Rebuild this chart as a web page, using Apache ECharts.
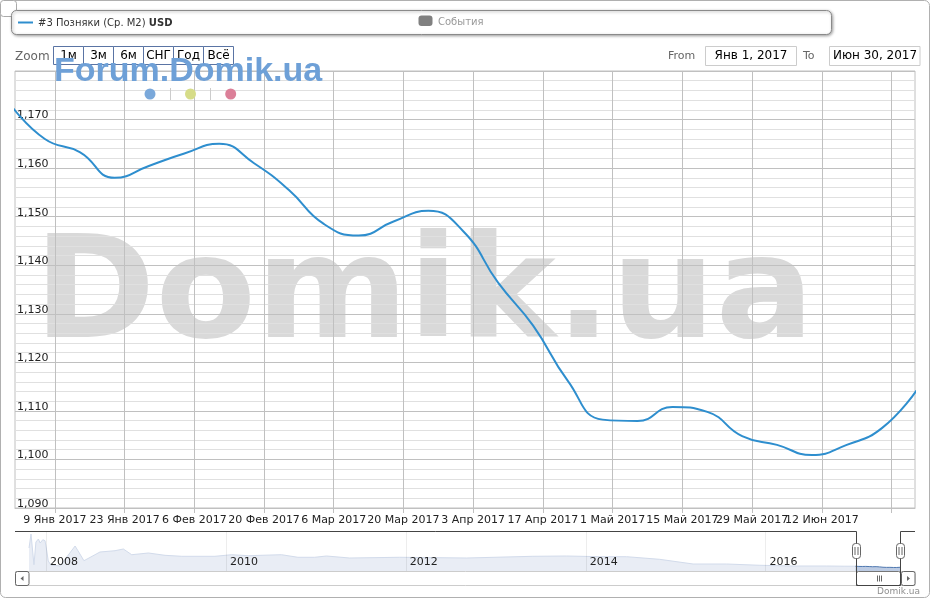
<!DOCTYPE html>
<html><head><meta charset="utf-8">
<script src="https://cdn.jsdelivr.net/npm/echarts@6/dist/echarts.min.js"></script>
<style>html,body{margin:0;padding:0;background:#fff}#c{width:931px;height:600px}</style>
</head><body><div id="c"></div>
<script>
// ---- main series (USD per m2) ----
const dates = ['2016-12-31','2017-01-07','2017-01-14','2017-01-21','2017-01-28','2017-02-04','2017-02-11','2017-02-18','2017-02-25','2017-03-04','2017-03-11','2017-03-18','2017-03-25','2017-04-01','2017-04-08','2017-04-15','2017-04-22','2017-04-29','2017-05-06','2017-05-13','2017-05-20','2017-05-27','2017-06-03','2017-06-10','2017-06-17','2017-06-24','2017-07-01'];
const values = [1173.2,1166.0,1163.3,1158.0,1160.5,1163.0,1165.0,1161.0,1155.5,1148.5,1146.1,1149.0,1151.2,1147.0,1136.4,1127.6,1116.2,1108.2,1107.9,1110.8,1109.8,1104.8,1103.0,1100.9,1103.0,1106.4,1114.2];
// ---- axis ticks ----
const tickDates = ['2017-01-09','2017-01-23','2017-02-06','2017-02-20','2017-03-06','2017-03-20','2017-04-03','2017-04-17','2017-05-01','2017-05-15','2017-05-29','2017-06-12','2017-06-26'];
const labelDatesA = ['2017-01-09','2017-02-06','2017-03-06','2017-04-03','2017-05-01','2017-05-29'];
const labelDatesB = ['2017-01-23','2017-02-20','2017-03-20','2017-04-17','2017-05-15','2017-06-12'];
const monthNames = ['Янв','Фев','Мар','Апр','Май','Июн','Июл','Авг','Сен','Окт','Ноя','Дек'];
const yMin = 1090, yMax = 1180, yStep = 10;
// ---- navigator history ----
const navDates = ['2007-10-24','2007-11-01','2007-11-13','2007-11-21','2007-12-01','2007-12-08','2007-12-19','2007-12-28','2008-01-04','2008-01-10','2008-01-21','2008-02-27','2008-04-28','2008-06-03','2008-07-18','2008-08-07','2008-10-07','2008-11-10','2008-12-14','2009-02-20','2009-04-28','2009-07-05','2009-11-17','2010-01-24','2010-04-01','2010-08-14','2010-10-20','2010-12-27','2011-02-13','2011-05-18','2011-12-07','2012-09-04','2013-05-31','2013-10-15','2014-02-27','2014-06-16','2014-10-28','2015-03-13','2015-07-27','2015-12-09','2016-04-22','2016-09-05','2016-11-15'];
const navValues = [2222,3027,1262,2567,2740,2510,2700,2642,2050,1475,1245,1187,2337,1492,1837,1992,2067,2165,1837,1935,1802,1745,1745,1837,1780,1837,1688,1688,1762,1647,1688,1647,1745,1762,1722,1722,1572,1302,1302,1228,1187,1187,1175];
const navYears = ['2008-01-01','2010-01-01','2012-01-01','2014-01-01','2016-01-01'];
const rangeFrom = '2017-01-01', rangeTo = '2017-06-30';
const zoomButtons = ['1м','3м','6м','СНГ','Год','Всё'];

function ts(s){const p=s.split('-').map(Number);return Date.UTC(p[0],p[1]-1,p[2]);}
const FF = 'DejaVu Sans';
const xMin = ts('2017-01-01'), xMax = ts('2017-06-30') + 17*3600000;
const fmtDate = v => { const d=new Date(v); return d.getUTCDate()+' '+monthNames[d.getUTCMonth()]+' '+d.getUTCFullYear(); };

const mainData = dates.map((d,i)=>[ts(d), values[i]]);
const navOut = navDates.map((d,i)=>[ts(d), navValues[i]]).concat([mainData[0]]);
const navIn = mainData.slice();

function labelAxis(list){
  return {type:'value', gridIndex:0, min:xMin, max:xMax, scale:true, position:'bottom',
    axisLine:{show:false, onZero:false}, axisTick:{show:false, customValues:list.map(ts)}, splitLine:{show:false},
    axisLabel:{customValues:list.map(ts), hideOverlap:false, showMinLabel:true, showMaxLabel:true, color:'#222', fontSize:11, fontFamily:FF, margin:7, formatter: fmtDate}};
}

const chart = echarts.init(document.getElementById('c'), null, {renderer:'canvas'});
chart.setOption({
  animation: false,
  textStyle: {fontFamily: FF},
  grid: [
    {left:15, right:16, top:71, bottom:92, show:true, borderColor:'#c0c0c0', borderWidth:1, containLabel:false},
    {left:15, right:16, top:531, height:40, show:false, containLabel:false}
  ],
  xAxis: [
    {type:'value', gridIndex:0, min:xMin, max:xMax, scale:true, position:'bottom',
     axisLine:{show:true, onZero:false, lineStyle:{color:'#c0c0c0'}},
     axisTick:{show:true, customValues: tickDates.map(ts), length:5, lineStyle:{color:'#c0c0c0'}},
     axisLabel:{show:false},
     splitLine:{show:true, lineStyle:{color:'#c0c0c0', width:1}}},
    {type:'value', gridIndex:1, min: ts('2007-08-28'), max: ts('2017-08-30'), scale:true, z:3,
     axisLine:{show:false, onZero:false},
     axisTick:{show:false, customValues: navYears.map(ts)},
     axisLabel:{customValues: navYears.map(ts), inside:true, hideOverlap:false, showMinLabel:true, showMaxLabel:true, align:'left', margin:3, padding:[0,0,0,4], color:'#222', fontSize:11, fontFamily:FF,
       formatter: v => String(new Date(v).getUTCFullYear())},
     splitLine:{show:true, lineStyle:{color:'rgba(0,0,0,0.07)'}}},
    labelAxis(labelDatesA),
    labelAxis(labelDatesB)
  ],
  yAxis: [
    {type:'value', gridIndex:0, min:yMin, max:yMax, interval:yStep,
     axisLine:{show:false}, axisTick:{show:false},
     axisLabel:{inside:true, margin:2, showMaxLabel:false, verticalAlign:'bottom', lineHeight:8, color:'#222', fontSize:11, fontFamily:FF,
       formatter: v => String(v).replace(/(\d)(?=(\d{3})+$)/g,'$1,')},
     splitLine:{show:true, lineStyle:{color:'#c0c0c0'}},
     minorTick:{show:false, splitNumber:5},
     minorSplitLine:{show:true, lineStyle:{color:'#e0e0e0'}}},
    {type:'value', gridIndex:1, min:900, max:3200, show:false, splitLine:{show:false}}
  ],
  series: [
    {type:'line', name:'nav-out', xAxisIndex:1, yAxisIndex:1, data: navOut, showSymbol:false, smooth:false, silent:true,
     lineStyle:{color:'#d2dbeb', width:1}, areaStyle:{color:'#e9edf5', opacity:1, origin:'start'}, z:1},
    {type:'line', name:'nav-in', xAxisIndex:1, yAxisIndex:1, data: navIn, showSymbol:false, smooth:false, silent:true,
     lineStyle:{color:'#4f78b0', width:1}, areaStyle:{color:'#bccbe3', opacity:1, origin:'start'}, z:1},
    {type:'line', name:'#3 Позняки (Ср. М2)', xAxisIndex:0, yAxisIndex:0, data: mainData, showSymbol:false, smooth:true, clip:false,
     lineStyle:{color:'#2e8ece', width:2}, z:5}
  ]
});

const px0 = Math.round(chart.convertToPixel({xAxisIndex:1}, ts(rangeFrom))) + 0.5;
const px1 = Math.round(chart.convertToPixel({xAxisIndex:1}, ts(rangeTo))) + 0.5;

const g = [];
g.push({type:'rect', z:-20, silent:true, shape:{x:0.5,y:0.5,width:929,height:597,r:5}, style:{fill:'#fff', stroke:'#b0b0b0', lineWidth:1}});
g.push({type:'rect', z:10, shape:{x:0.5,y:0.5,width:16,height:16,r:3}, style:{fill:'#fff', stroke:'#aaa'}});
g.push({type:'rect', z:10, shape:{x:11.5,y:10.5,width:820,height:24,r:5}, style:{fill:'#fff', stroke:'#8a8a8a', lineWidth:1, shadowBlur:3, shadowOffsetX:1, shadowOffsetY:1, shadowColor:'rgba(0,0,0,0.35)'}});
g.push({type:'line', z:11, shape:{x1:18,y1:22.5,x2:33,y2:22.5}, style:{stroke:'#2e8ece', lineWidth:2}});
g.push({type:'text', z:11, x:38, y:23, style:{text:'{a|#3 Позняки (Ср. М2) }{b|USD}', verticalAlign:'middle',
  rich:{a:{fontSize:10, fontFamily:FF, fill:'#333'}, b:{fontSize:10, fontFamily:FF, fontWeight:'bold', fill:'#333'}}}});
g.push({type:'rect', z:11, shape:{x:418.5,y:15.5,width:14,height:10.5,r:3}, style:{fill:'#808080'}});
g.push({type:'text', z:11, x:438, y:22.5, style:{text:'События', fontSize:10, fontFamily:FF, fill:'#999', verticalAlign:'middle'}});
g.push({type:'text', z:11, x:15, y:57, style:{text:'Zoom', fontSize:12, fontFamily:FF, fill:'#666', verticalAlign:'middle'}});
zoomButtons.forEach((t,i)=>{
  const bx = 53.5 + i*30;
  g.push({type:'rect', z:11, shape:{x:bx,y:46.5,width:30,height:18}, style:{fill:'rgba(255,255,255,0.6)', stroke:'#5a74a4', lineWidth:1}});
  g.push({type:'text', z:12, x:bx+15, y:56, style:{text:t, fontSize:12, fontFamily:FF, fill:'#000', align:'center', verticalAlign:'middle'}});
});
g.push({type:'text', z:11, x:668, y:56, style:{text:'From', fontSize:11, fontFamily:FF, fill:'#666', verticalAlign:'middle'}});
g.push({type:'rect', z:11, shape:{x:705.5,y:46.5,width:91,height:19}, style:{fill:'#fff', stroke:'#ccc'}});
g.push({type:'text', z:12, x:751, y:56, style:{text:'Янв 1, 2017', fontSize:12, fontFamily:FF, fill:'#000', align:'center', verticalAlign:'middle'}});
g.push({type:'text', z:11, x:803, y:56, style:{text:'To', fontSize:11, fontFamily:FF, fill:'#666', verticalAlign:'middle'}});
g.push({type:'rect', z:11, shape:{x:829.5,y:46.5,width:90.5,height:19}, style:{fill:'#fff', stroke:'#ccc'}});
g.push({type:'text', z:12, x:875, y:56, style:{text:'Июн 30, 2017', fontSize:12, fontFamily:FF, fill:'#000', align:'center', verticalAlign:'middle'}});
g.push({type:'text', z:-5, silent:true, x:34, y:300, scaleX:1.03, style:{text:'Domik.ua', fontSize:142, fontWeight:'bold', fontFamily:FF, fill:'#d9d9d9', verticalAlign:'middle'}});
g.push({type:'text', z:20, silent:true, x:54, y:72, style:{text:'Forum.Domik.ua', fontSize:34, fontWeight:'bold', fontFamily:'Liberation Sans', fill:'#6ea0d7', verticalAlign:'middle'}});
g.push({type:'circle', z:20, shape:{cx:150,cy:94,r:5.5}, style:{fill:'#7aa8da'}});
g.push({type:'line', z:20, shape:{x1:170.5,y1:88,x2:170.5,y2:100}, style:{stroke:'#ccc', lineWidth:1}});
g.push({type:'circle', z:20, shape:{cx:190.5,cy:94,r:5.5}, style:{fill:'#d6dc88'}});
g.push({type:'line', z:20, shape:{x1:210.5,y1:88,x2:210.5,y2:100}, style:{stroke:'#ccc', lineWidth:1}});
g.push({type:'circle', z:20, shape:{cx:230.7,cy:94,r:5.5}, style:{fill:'#db7f98'}});
g.push({type:'rect', z:10, shape:{x:15.5,y:571.5,width:899.5,height:14}, style:{fill:'#fff', stroke:'#ccc'}});
g.push({type:'rect', z:11, shape:{x:15.5,y:571.5,width:13.5,height:14,r:2}, style:{fill:'#fff', stroke:'#666'}});
g.push({type:'polygon', z:12, shape:{points:[[20.5,578.5],[23.5,576],[23.5,581]]}, style:{fill:'#666'}});
g.push({type:'rect', z:11, shape:{x:901.5,y:571.5,width:13.5,height:14,r:2}, style:{fill:'#fff', stroke:'#666'}});
g.push({type:'polygon', z:12, shape:{points:[[910,578.5],[907,576],[907,581]]}, style:{fill:'#666'}});
g.push({type:'rect', z:11, shape:{x:px0,y:571.5,width:px1-px0,height:14,r:2}, style:{fill:'#fff', stroke:'#777'}});
const cx = Math.round((px0+px1)/2)+0.5;
[-2,0,2].forEach(o=>g.push({type:'line', z:12, shape:{x1:cx+o,y1:575.5,x2:cx+o,y2:581.5}, style:{stroke:'#666', lineWidth:1}}));
g.push({type:'polyline', z:13, shape:{points:[[15,531.5],[px0,531.5],[px0,585.5],[px1,585.5],[px1,531.5],[915,531.5]]}, style:{stroke:'#444', lineWidth:1, fill:null}});
[px0,px1].forEach(p=>{
  g.push({type:'rect', z:14, shape:{x:p-4,y:543.5,width:8,height:15,r:3}, style:{fill:'#fff', stroke:'#666'}});
  g.push({type:'line', z:15, shape:{x1:p-1.5,y1:547,x2:p-1.5,y2:555}, style:{stroke:'#666'}});
  g.push({type:'line', z:15, shape:{x1:p+1.5,y1:547,x2:p+1.5,y2:555}, style:{stroke:'#666'}});
});
g.push({type:'text', z:11, x:920, y:591.5, style:{text:'Domik.ua', fontSize:9, fontFamily:FF, fill:'#909090', align:'right', verticalAlign:'middle'}});

chart.setOption({graphic: g});
</script></body></html>
